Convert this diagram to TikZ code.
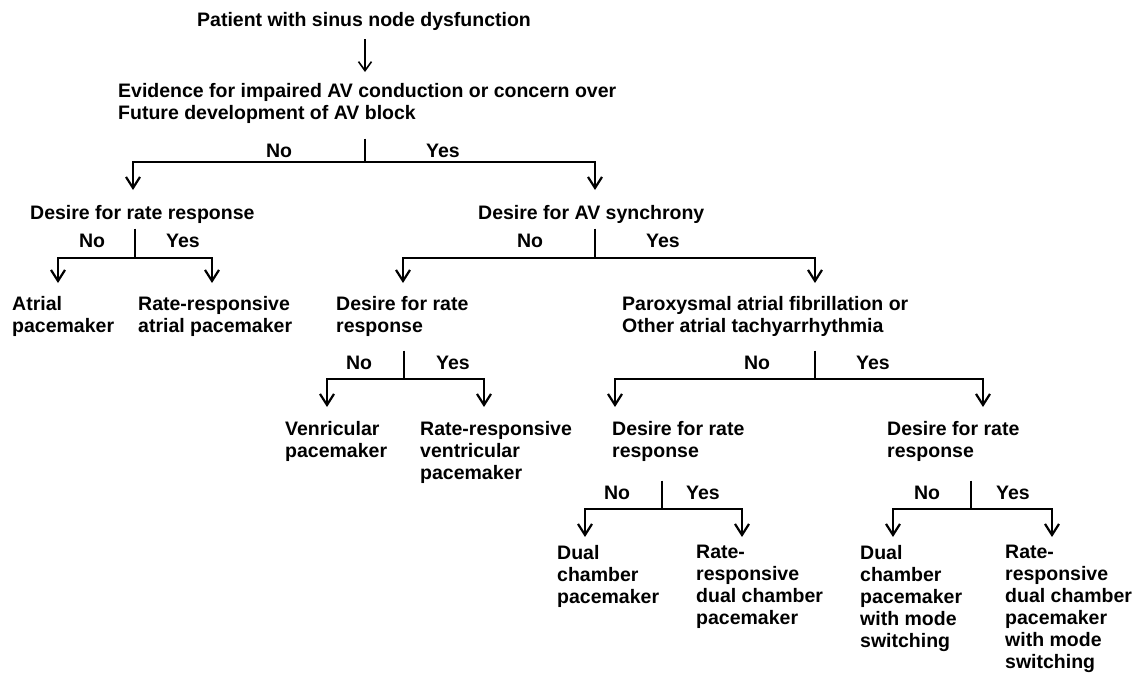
\documentclass[tikz,border=0pt]{standalone}
\usepackage{fontspec}
\setmainfont{Liberation Sans}
\usetikzlibrary{arrows.meta}
\begin{document}
\begin{tikzpicture}[x=1pt,y=-1pt,
  txt/.style={anchor=north west,inner sep=0pt,align=left,
    font=\bfseries\fontsize{19.5}{22}\selectfont},
  lbl/.style={anchor=base,inner sep=0pt,font=\bfseries\fontsize{19.5}{22}\selectfont},
  line/.style={line width=2.2pt,line cap=butt},
  arr/.style={line width=2.2pt,-{Straight Barb[length=11pt,width=14pt]}},
  toparr/.style={line width=1.6pt,-{Straight Barb[length=9pt,width=13pt]}}]
\useasboundingbox (0,0) rectangle (1138,680);

% decision texts and outcomes
\node[lbl] (patient) at (364,26) {Patient with sinus node dysfunction};
\node[txt] (evidence) at (118,83) {Evidence for impaired AV conduction or concern over\\Future development of AV block};
\node[txt] (rate1) at (30,205) {Desire for rate response};
\node[txt] (avsync) at (478,205) {Desire for AV synchrony};
\node[txt] (atrial) at (12,296) {Atrial\\pacemaker};
\node[txt] (rratrial) at (138,296) {Rate-responsive\\atrial pacemaker};
\node[txt] (rate2) at (336,296) {Desire for rate\\response};
\node[txt] (parox) at (622,296) {Paroxysmal atrial fibrillation or\\Other atrial tachyarrhythmia};
\node[txt] (vent) at (285,421) {Venricular\\pacemaker};
\node[txt] (rrvent) at (420,421) {Rate-responsive\\ventricular\\pacemaker};
\node[txt] (rate3) at (612,421) {Desire for rate\\response};
\node[txt] (rate4) at (887,421) {Desire for rate\\response};
\node[txt] (dual) at (557,545) {Dual\\chamber\\pacemaker};
\node[txt] (rrdual) at (696,545) {Rate-\\responsive\\dual chamber\\pacemaker};
\node[txt] (dualms) at (860,545) {Dual\\chamber\\pacemaker\\with mode\\switching};
\node[txt] (rrdualms) at (1005,545) {Rate-\\responsive\\dual chamber\\pacemaker\\with mode\\switching};

% branch points
\coordinate (jA) at (365,162);
\coordinate (jB) at (135,258);
\coordinate (jC) at (595,258);
\coordinate (jD) at (404,379);
\coordinate (jE) at (815,379);
\coordinate (jF) at (662,509);
\coordinate (jG) at (971,509);

% arrow tips
\coordinate (tRate1) at (133,190);
\coordinate (tAvsync) at (595,190);
\coordinate (tAtrial) at (58,283);
\coordinate (tRratrial) at (212,283);
\coordinate (tRate2) at (403,283);
\coordinate (tParox) at (815,283);
\coordinate (tVent) at (327,407);
\coordinate (tRrvent) at (484,407);
\coordinate (tRate3) at (615,407);
\coordinate (tRate4) at (983,407);
\coordinate (tDual) at (585,537);
\coordinate (tRrdual) at (742,537);
\coordinate (tDualms) at (893,537);
\coordinate (tRrdualms) at (1052,537);

% first step (canvas yshift: positive is up)
\draw[toparr] ([yshift=-9pt]patient.south -| jA) -- ([yshift=11pt]evidence.north -| jA);

% stems
\draw[line] ([yshift=-15pt]evidence.south -| jA) -- (jA);
\draw[line] ([yshift=-5pt]rate1.south -| jB) -- (jB);
\draw[line] ([yshift=-5pt]avsync.south -| jC) -- (jC);
\draw[line] ([yshift=-14pt]rate2.south -| jD) -- (jD);
\draw[line] ([yshift=-14pt]parox.south -| jE) -- (jE);
\draw[line] ([yshift=-19pt]rate3.south -| jF) -- (jF);
\draw[line] ([yshift=-19pt]rate4.south -| jG) -- (jG);

% branches
\draw[arr] (jA) -| (tRate1);  \draw[arr] (jA) -| (tAvsync);
\draw[arr] (jB) -| (tAtrial); \draw[arr] (jB) -| (tRratrial);
\draw[arr] (jC) -| (tRate2);  \draw[arr] (jC) -| (tParox);
\draw[arr] (jD) -| (tVent);   \draw[arr] (jD) -| (tRrvent);
\draw[arr] (jE) -| (tRate3);  \draw[arr] (jE) -| (tRate4);
\draw[arr] (jF) -| (tDual);   \draw[arr] (jF) -| (tRrdual);
\draw[arr] (jG) -| (tDualms); \draw[arr] (jG) -| (tRrdualms);

% branch labels
\node[lbl] (noA) at (279,157) {No};  \node[lbl] (yesA) at (443,157) {Yes};
\node[lbl] (noB) at (92,247) {No};   \node[lbl] (yesB) at (183,247) {Yes};
\node[lbl] (noC) at (530,247) {No};  \node[lbl] (yesC) at (663,247) {Yes};
\node[lbl] (noD) at (359,369) {No};  \node[lbl] (yesD) at (453,369) {Yes};
\node[lbl] (noE) at (757,369) {No};  \node[lbl] (yesE) at (873,369) {Yes};
\node[lbl] (noF) at (617,499) {No};  \node[lbl] (yesF) at (703,499) {Yes};
\node[lbl] (noG) at (927,499) {No};  \node[lbl] (yesG) at (1013,499) {Yes};
\end{tikzpicture}
\end{document}
